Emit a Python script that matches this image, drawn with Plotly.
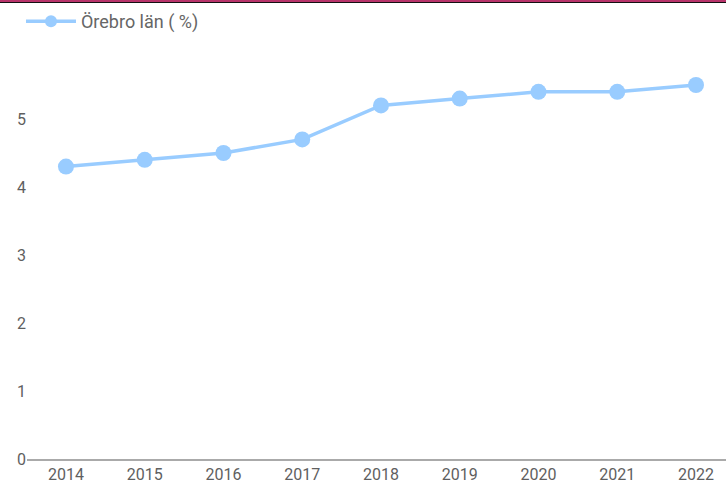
import plotly.graph_objects as go

years = [2014, 2015, 2016, 2017, 2018, 2019, 2020, 2021, 2022]
values = [4.3, 4.4, 4.5, 4.7, 5.2, 5.3, 5.4, 5.4, 5.5]
y_ticks = [0, 1, 2, 3, 4, 5]
series_name = "Örebro län ( %)"

W, H = 726, 484
M_TOP, M_BOTTOM, M_LEFT = 51, 25, 27
plot_h = H - M_TOP - M_BOTTOM


def py(px_from_top):
    # pixel row -> paper y
    return 1 + (M_TOP - px_from_top) / plot_h


fig = go.Figure()
fig.add_trace(go.Scatter(
    x=years, y=values, mode="lines+markers", name=series_name,
    line=dict(color="#99ccff", width=3.5),
    marker=dict(color="#99ccff", size=16),
    showlegend=False,
))
# legend-only entry so the legend marker can be a bit smaller
fig.add_trace(go.Scatter(
    x=[None], y=[None], mode="lines+markers", name=series_name,
    line=dict(color="#99ccff", width=3.5),
    marker=dict(color="#99ccff", size=12),
))

fig.update_layout(
    width=W, height=H,
    margin=dict(l=M_LEFT, r=0, t=M_TOP, b=M_BOTTOM),
    paper_bgcolor="white", plot_bgcolor="white",
    font=dict(family="Roboto", size=14, color="#5f5f5f"),
    showlegend=True,
    legend=dict(x=-0.0086, xanchor="left", y=py(3), yanchor="top", itemwidth=50,
                font=dict(size=18, color="#666666"), bgcolor="rgba(0,0,0,0)"),
    xaxis=dict(range=[2013.505, 2022.381], tickvals=years, showgrid=False,
               zeroline=False, showline=True, linecolor="#aaaaaa", linewidth=1.5,
               ticks="", tickfont=dict(size=16, color="#5f5f5f")),
    yaxis=dict(range=[0, 6], tickvals=y_ticks, showgrid=False, zeroline=False,
               showline=False, ticks="", tickfont=dict(size=16, color="#5f5f5f")),
    shapes=[
        dict(type="rect", xref="paper", yref="paper", x0=-0.1, x1=1.1,
             y0=py(2), y1=py(0), fillcolor="#b8336a", line_width=0, layer="above"),
        dict(type="rect", xref="paper", yref="paper", x0=-0.1, x1=1.1,
             y0=py(3), y1=py(2), fillcolor="#111111", line_width=0, layer="above"),
    ],
)

fig.write_html("out.html", config={"displayModeBar": False},
               post_script="document.body.style.margin='0';")
